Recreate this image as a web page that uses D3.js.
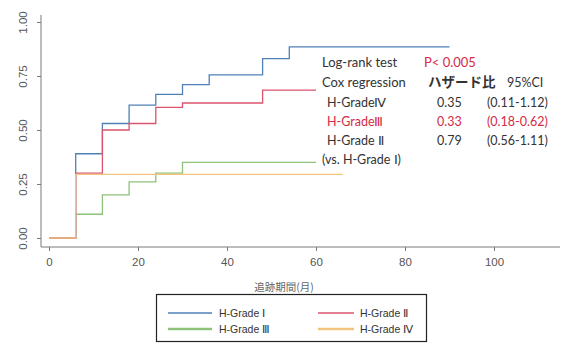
<!DOCTYPE html>
<html><head><meta charset="utf-8">
<script src="https://cdn.jsdelivr.net/npm/d3@7"></script>
<style>body{margin:0;background:#fff}svg{display:block}</style>
</head><body>
<script>
// ---- data ----
const gradeI_t   = [0, 6, 12, 18, 24, 30, 36, 48, 54, 90];
const gradeI_s   = [0, 0.39, 0.53, 0.615, 0.665, 0.71, 0.755, 0.83, 0.885, 0.885];
const gradeII_t  = [0, 6, 12, 18, 24, 30, 48, 60];
const gradeII_s  = [0, 0.30, 0.50, 0.53, 0.605, 0.625, 0.685, 0.685];
const gradeIII_t = [0, 6, 12, 18, 24, 30, 60];
const gradeIII_s = [0, 0.11, 0.20, 0.26, 0.30, 0.35, 0.35];
const gradeIV_t  = [0, 6, 66];
const gradeIV_s  = [0, 0.295, 0.295];
const seriesNames = ["H-Grade Ⅰ", "H-Grade Ⅱ", "H-Grade Ⅲ", "H-Grade Ⅳ"];
const xTicks = [0, 20, 40, 60, 80, 100];
const yTicks = [0, 0.25, 0.5, 0.75, 1.0];
const xLabel = "追跡期間(月)";
const statRows = [
  ["H-GradeⅣ", "0.35", "(0.11-1.12)"],
  ["H-GradeⅢ", "0.33", "(0.18-0.62)"],
  ["H-Grade Ⅱ", "0.79", "(0.56-1.11)"]
];

const W = 567, H = 349;
const colors = ["#4f81b8", "#d9546c", "#8fc27a", "#f3c57c"];
const svg = d3.select("body").append("svg").attr("width", W).attr("height", H);

const x = d3.scaleLinear().domain([0, 100]).range([49, 494]);
const y = d3.scaleLinear().domain([0, 1]).range([238, 22]);

// axes
const axisColor = "#7a7a7a";
svg.append("line").attr("x1", 41).attr("x2", 41).attr("y1", 15).attr("y2", 247)
  .attr("stroke", axisColor).attr("stroke-width", 1);
svg.append("line").attr("x1", 41).attr("x2", 560).attr("y1", 247).attr("y2", 247)
  .attr("stroke", axisColor).attr("stroke-width", 1);

const gx = svg.append("g").attr("transform", "translate(0,247)")
  .call(d3.axisBottom(x).tickValues(xTicks).tickSize(4).tickPadding(7).tickFormat(d3.format("d")));
gx.select(".domain").remove();
gx.selectAll("line").attr("stroke", axisColor);
gx.selectAll("text").attr("fill", "#555").style("font-family", "Liberation Sans, Arial, sans-serif").style("font-size", "11.5px");

const gy = svg.append("g").attr("transform", "translate(41,0)")
  .call(d3.axisLeft(y).tickValues(yTicks).tickSize(4).tickFormat(d3.format(".2f")));
gy.select(".domain").remove();
gy.selectAll("line").attr("stroke", axisColor);
gy.selectAll("text").attr("fill", "#555")
  .style("font-family", "Liberation Sans, Arial, sans-serif").style("font-size", "11.5px")
  .attr("transform", "rotate(-90)").attr("x", 0).attr("y", -18).attr("dy", "0.35em")
  .attr("text-anchor", "middle");

// curves
const line = d3.line().x(d => x(d[0])).y(d => y(d[1])).curve(d3.curveStepAfter);
const series = [
  {t: gradeIII_t, s: gradeIII_s, c: colors[2]},
  {t: gradeI_t, s: gradeI_s, c: colors[0]},
  {t: gradeII_t, s: gradeII_s, c: colors[1]},
  {t: gradeIV_t, s: gradeIV_s, c: colors[3]}
];
series.forEach(se => {
  svg.append("path").datum(d3.zip(se.t, se.s)).attr("d", line)
    .attr("fill", "none").attr("stroke", se.c).attr("stroke-width", 1.3);
});

// stats text
const tf = "Lato, 'Open Sans', sans-serif";
const dark = "#333";
const red = "#d42a45";
function txt(xp, yp, s, col, size, fam, weight) {
  svg.append("text").attr("x", xp).attr("y", yp).text(s)
    .attr("fill", col || dark).style("font-family", fam || tf).style("font-size", (size || 13) + "px")
    .style("font-weight", weight || "normal");
}
txt(322, 67, "Log-rank test");
txt(424, 67, "P< 0.005", red);
txt(322, 87, "Cox regression");
txt(428, 87, "ハザード比", dark, 13.5, "'Noto Sans CJK JP', sans-serif", "bold");
txt(507, 87, "95%CI", dark, 12.5);
statRows.forEach((r, i) => {
  const col = i === 1 ? red : dark;
  const yy = 107 + i * 19;
  txt(327, yy, r[0], col, 12.5);
  txt(437, yy, r[1], col, 12.5);
  txt(487, yy, r[2], col, 12.5);
});
txt(322, 164, "(vs. H-Grade Ⅰ)", dark, 12.5);

// x label
svg.append("text").attr("x", 284).attr("y", 291).attr("text-anchor", "middle")
  .text(xLabel).attr("fill", "#666").style("font-family", "'Noto Sans CJK JP', sans-serif").style("font-size", "10.5px");

// legend
svg.append("rect").attr("x", 156.5).attr("y", 294.5).attr("width", 270).attr("height", 47)
  .attr("fill", "#fff").attr("stroke", "#222").attr("stroke-width", 1.2);
const legPos = [[168, 313], [318, 313], [168, 329], [318, 329]];
seriesNames.forEach((n, i) => {
  const [lx, ly] = legPos[i];
  svg.append("line").attr("x1", lx).attr("x2", lx + (i % 2 ? 36 : 44)).attr("y1", ly).attr("y2", ly)
    .attr("stroke", colors[i]).attr("stroke-width", i >= 2 ? 2.5 : 1.5);
  svg.append("text").attr("x", lx + (i % 2 ? 42 : 51)).attr("y", ly + 4).text(n)
    .attr("fill", "#333").style("font-family", "Liberation Sans, Arial, sans-serif").style("font-size", "10.5px");
});
</script>
</body></html>
